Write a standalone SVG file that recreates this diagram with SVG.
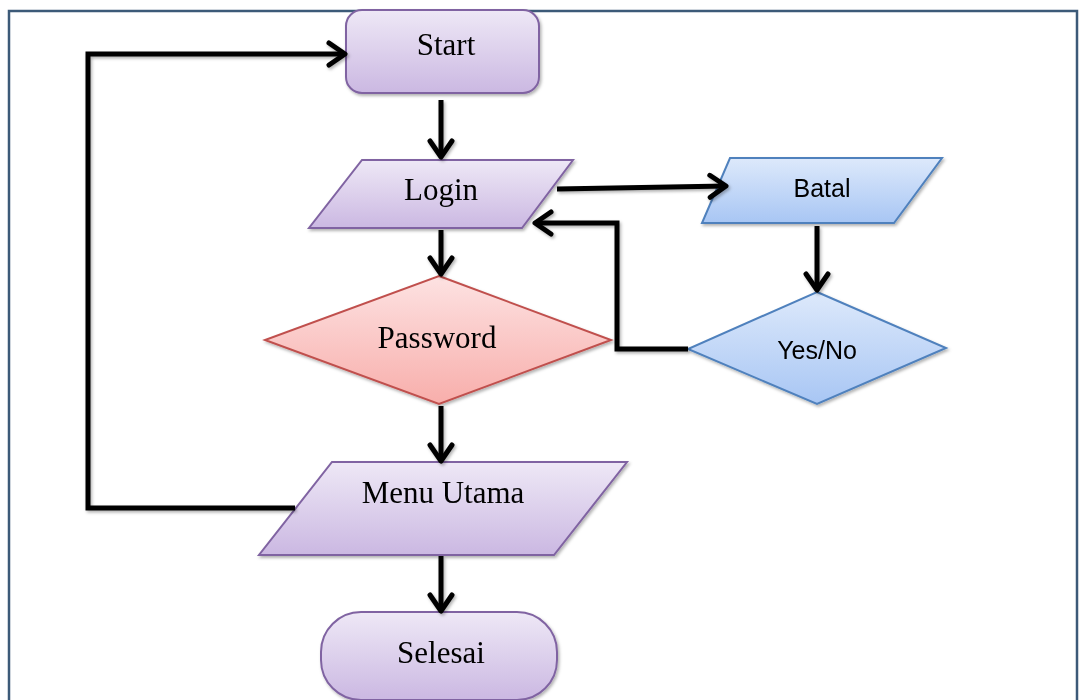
<svg xmlns="http://www.w3.org/2000/svg" width="1079" height="700" viewBox="0 0 1079 700">
<defs>
<linearGradient id="gPurple" x1="0" y1="0" x2="0" y2="1">
<stop offset="0" stop-color="#eee8f6"/>
<stop offset="1" stop-color="#cbb8e2"/>
</linearGradient>
<linearGradient id="gRed" x1="0" y1="0" x2="0" y2="1">
<stop offset="0" stop-color="#fde2e2"/>
<stop offset="1" stop-color="#f8aeab"/>
</linearGradient>
<linearGradient id="gBlue" x1="0" y1="0" x2="0" y2="1">
<stop offset="0" stop-color="#dde9fb"/>
<stop offset="1" stop-color="#a8c6f4"/>
</linearGradient>
<filter id="sh" x="-10%" y="-10%" width="125%" height="130%">
<feDropShadow dx="1.5" dy="2" stdDeviation="1.5" flood-color="#000" flood-opacity="0.3"/>
</filter>
<marker id="arr" viewBox="0 0 28 28" markerWidth="28" markerHeight="28" refX="21" refY="14" orient="auto" markerUnits="userSpaceOnUse">
<path d="M5,3 L21,14 L5,25" fill="none" stroke="#000" stroke-width="5" stroke-linecap="round" stroke-linejoin="round"/>
</marker>
</defs>
<style>
.purple{fill:url(#gPurple);stroke:#8064a2;stroke-width:2}
.red{fill:url(#gRed);stroke:#c0504d;stroke-width:2}
.blue{fill:url(#gBlue);stroke:#4f81bd;stroke-width:2}
.serif{font-family:"Liberation Serif","Times New Roman",serif;font-size:31px;fill:#000;text-anchor:middle}
.sans{font-family:"Liberation Sans",Arial,sans-serif;font-size:25px;fill:#000;text-anchor:middle}
.conn{fill:none;stroke:#000;stroke-width:5;stroke-linejoin:miter}
</style>
<rect x="0" y="0" width="1079" height="700" fill="#fff"/>
<rect id="frame" x="9" y="11" width="1068" height="720" fill="none" stroke="#3c5a78" stroke-width="2.5"/>

<g id="start" filter="url(#sh)">
<rect class="purple" x="346" y="10" width="193" height="83" rx="16" ry="16"/>
<text class="serif" x="446" y="55">Start</text>
</g>
<g id="login" filter="url(#sh)">
<polygon class="purple" points="362,160 573,160 522,228 309,228"/>
<text class="serif" x="441" y="200">Login</text>
</g>
<g id="password" filter="url(#sh)">
<polygon class="red" points="439,276 611,340 439,404 265,340"/>
<text class="serif" x="437" y="348">Password</text>
</g>
<g id="menu-utama" filter="url(#sh)">
<polygon class="purple" points="332,462 627,462 554,555 259,555"/>
<text class="serif" x="443" y="503">Menu Utama</text>
</g>
<g id="selesai" filter="url(#sh)">
<rect class="purple" x="321" y="612" width="236" height="88" rx="40" ry="40"/>
<text class="serif" x="441" y="663">Selesai</text>
</g>
<g id="batal" filter="url(#sh)">
<polygon class="blue" points="730,158 942,158 894,223 702,223"/>
<text class="sans" x="822" y="197">Batal</text>
</g>
<g id="yes-no" filter="url(#sh)">
<polygon class="blue" points="817,292 946,348 817,404 688,349"/>
<text class="sans" x="817" y="359">Yes/No</text>
</g>

<g id="connectors" filter="url(#sh)">
<path class="conn" d="M441,100 L441,157" marker-end="url(#arr)"/>
<path class="conn" d="M441,230 L441,274" marker-end="url(#arr)"/>
<path class="conn" d="M441,406 L441,461" marker-end="url(#arr)"/>
<path class="conn" d="M441,556 L441,611" marker-end="url(#arr)"/>
<path class="conn" d="M557,189 L726,186" marker-end="url(#arr)"/>
<path class="conn" d="M817,226 L817,290" marker-end="url(#arr)"/>
<path class="conn" d="M688,349 L617,349 L617,223 L535,223" marker-end="url(#arr)"/>
<path class="conn" d="M295,508 L88,508 L88,54 L345,54" marker-end="url(#arr)"/>
</g>
</svg>
